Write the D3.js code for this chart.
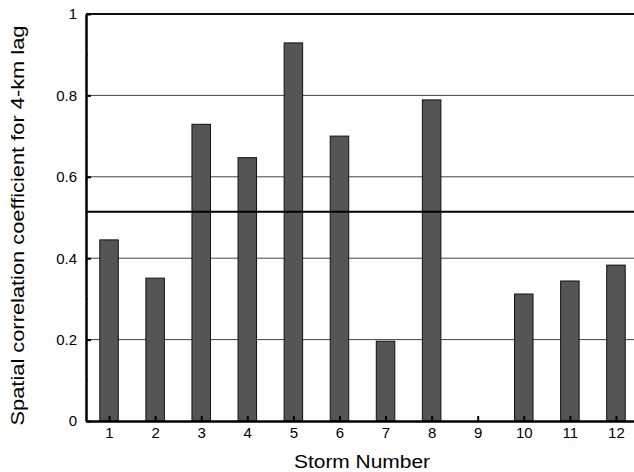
<!DOCTYPE html>
<html>
<head>
<meta charset="utf-8">
<script src="https://cdn.jsdelivr.net/npm/d3@7"></script>
<style>
  body { margin: 0; background: #fff; }
  text { font-family: "Liberation Sans", Arial, sans-serif; fill: #000; }
</style>
</head>
<body>
<div id="chart"></div>
<script>
// data
var storms = [1, 2, 3, 4, 5, 6, 7, 8, 9, 10, 11, 12];
var corr = [0.445, 0.351, 0.729, 0.647, 0.929, 0.700, 0.196, 0.789, 0, 0.312, 0.344, 0.383];
var yTicks = [0, 0.2, 0.4, 0.6, 0.8, 1];
var yMinor = [0.1, 0.3, 0.5, 0.7, 0.9];
var meanLine = 0.514;

var svgWidth = 634, svgHeight = 472;
var margin = {top: 14, right: -5, bottom: 51, left: 86},
    width = svgWidth - margin.left - margin.right,
    height = svgHeight - margin.top - margin.bottom;

var svg = d3.select('#chart').append('svg')
    .attr('width', svgWidth)
    .attr('height', svgHeight);
var g = svg.append('g')
    .attr('transform', `translate(${margin.left}, ${margin.top})`);

var x = d3.scaleLinear().domain([0.5, 12.5]).range([0, width]);
var y = d3.scaleLinear().domain([0, 1]).range([height, 0]);
var barW = 18.5;

// grid lines
g.selectAll('.grid')
    .data(yTicks.filter(d => d > 0 && d < 1))
    .enter().append('line')
    .attr('x1', 0).attr('x2', width)
    .attr('y1', d => y(d)).attr('y2', d => y(d))
    .attr('stroke', '#444').attr('stroke-width', 1);

// bars
g.selectAll('.bar')
    .data(corr)
    .enter().append('rect')
    .attr('x', (d, i) => x(storms[i]) - barW / 2)
    .attr('y', d => y(d))
    .attr('width', barW)
    .attr('height', d => height - y(d))
    .attr('fill', '#555')
    .attr('stroke', '#111')
    .attr('stroke-width', 1);

// mean line
g.append('line')
    .attr('x1', 0).attr('x2', width)
    .attr('y1', y(meanLine)).attr('y2', y(meanLine))
    .attr('stroke', '#000').attr('stroke-width', 2);

// top border
g.append('line')
    .attr('x1', 0).attr('x2', width)
    .attr('y1', 0).attr('y2', 0)
    .attr('stroke', '#111').attr('stroke-width', 2);

// y axis
var yAxis = g.append('g')
    .call(d3.axisLeft(y).tickValues(yTicks).tickFormat(d3.format('')).tickSizeInner(-5).tickSizeOuter(0).tickPadding(9));
yAxis.select('.domain').attr('stroke', '#000').attr('stroke-width', 2.5);
yAxis.selectAll('.tick line').attr('stroke', '#000').attr('stroke-width', 2);
yAxis.selectAll('text').attr('font-size', 15);

g.selectAll('.minor')
    .data(yMinor)
    .enter().append('line')
    .attr('x1', 0).attr('x2', 2)
    .attr('y1', d => y(d)).attr('y2', d => y(d))
    .attr('stroke', '#000').attr('stroke-width', 1);

// x axis
var xAxis = g.append('g')
    .attr('transform', `translate(0, ${height})`)
    .call(d3.axisBottom(x).tickValues(storms).tickSizeInner(-5).tickSizeOuter(0).tickPadding(6));
xAxis.select('.domain').attr('stroke', '#000').attr('stroke-width', 2.5);
xAxis.selectAll('.tick line').attr('stroke', '#000').attr('stroke-width', 2);
xAxis.selectAll('text').attr('font-size', 15);

// axis titles
svg.append('text')
    .attr('x', 362)
    .attr('y', 468)
    .attr('text-anchor', 'middle')
    .attr('font-size', 18)
    .attr('textLength', 136)
    .attr('lengthAdjust', 'spacingAndGlyphs')
    .text('Storm Number');

svg.append('text')
    .attr('transform', `translate(23.5, 225.5) rotate(-90)`)
    .attr('text-anchor', 'middle')
    .attr('font-size', 17.5)
    .attr('textLength', 400)
    .attr('lengthAdjust', 'spacingAndGlyphs')
    .text('Spatial correlation coefficient for 4-km lag');
</script>
</body>
</html>
